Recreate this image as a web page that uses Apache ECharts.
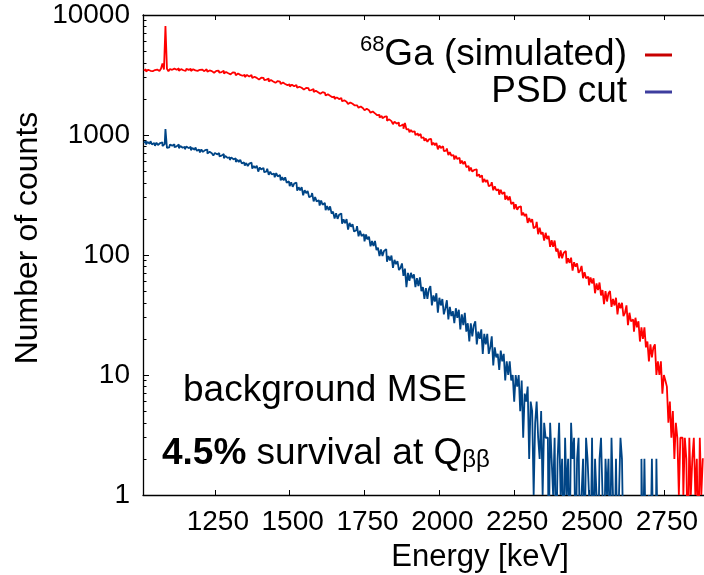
<!DOCTYPE html>
<html>
<head>
<meta charset="utf-8">
<script src="https://cdn.jsdelivr.net/npm/echarts@6/dist/echarts.min.js"></script>
<style>
  html, body { margin: 0; padding: 0; background: #fff; }
  #chart { width: 704px; height: 575px; }
</style>
</head>
<body>
<div id="chart"></div>
<script>
// Energy binning shared by both spectra (keV)
const binStart = 1010;
const binWidth = 5;

// Counts per 5 keV bin, simulated 68Ga spectrum (1010 - 2885 keV)
const gaCounts = [
  3450, 3520, 3380, 3500, 3430, 3550, 3400, 3480, 3370, 3510,
  3420, 3520, 3570, 3950, 3510, 8100, 3560, 3395, 3545, 3495,
  3570, 3445, 3495, 3590, 3420, 3540, 3465, 3515, 3415, 3565,
  3490, 3560, 3410, 3530, 3455, 3570, 3425, 3495, 3370, 3510,
  3405, 3495, 3535, 3360, 3450, 3405, 3480, 3300, 3420, 3380,
  3441, 3311, 3346, 3426, 3251, 3355, 3274, 3307, 3203, 3328,
  3250, 3304, 3153, 3252, 3170, 3267, 3119, 3171, 3046, 3164,
  3066, 3134, 3158, 2989, 3055, 2995, 3060, 2895, 3000, 2940,
  2992, 2870, 2892, 2953, 2794, 2876, 2797, 2818, 2721, 2818,
  2750, 2789, 2657, 2735, 2660, 2736, 2606, 2644, 2535, 2626,
  2544, 2598, 2615, 2474, 2527, 2474, 2525, 2387, 2472, 2420,
  2461, 2357, 2370, 2416, 2281, 2342, 2274, 2286, 2203, 2277,
  2220, 2245, 2132, 2187, 2121, 2173, 2064, 2087, 1994, 2058,
  1992, 2026, 2031, 1912, 1945, 1896, 1927, 1812, 1868, 1820,
  1848, 1764, 1768, 1796, 1690, 1728, 1671, 1674, 1607, 1654,
  1610, 1622, 1535, 1569, 1515, 1546, 1462, 1472, 1401, 1440,
  1382, 1420, 1428, 1314, 1350, 1305, 1339, 1231, 1288, 1245,
  1272, 1193, 1198, 1227, 1127, 1260, 1114, 1118, 1055, 1102,
  1060, 1075, 997, 1032, 986, 1018, 944, 956, 894, 933,
  878, 918, 930, 824, 862, 823, 859, 760, 818, 780,
  805, 733, 741, 771, 680, 719, 673, 679, 625, 669,
  630, 646, 578, 611, 572, 603, 540, 552, 500, 536,
  495, 513, 516, 454, 470, 445, 460, 402, 430, 405,
  422, 374, 383, 405, 346, 374, 346, 352, 318, 350,
  322, 334, 289, 312, 286, 308, 266, 275, 241, 265,
  238, 251, 254, 214, 225, 211, 220, 185, 203, 188,
  199, 167, 173, 189, 149, 169, 149, 155, 132, 153,
  136, 144, 117, 133, 117, 132, 107, 113, 94, 109,
  94, 104, 108, 85, 94, 86, 95, 74, 87, 80,
  85, 71, 74, 81, 64, 72, 64, 66, 56, 65,
  58, 64, 48, 58, 51, 59, 46, 51, 39, 50,
  41, 48, 50, 37, 43, 38, 44, 32, 40, 36,
  40, 31, 33, 38, 26, 33, 28, 29, 23, 30,
  25, 28, 19, 25, 20, 25, 17, 19, 13, 18,
  14, 17, 18, 10, 13, 10, 13, 7, 10, 9,
  8, 4, 6, 3, 5, 2, 4, 3, 1, 3,
  3, 1, 3, 2, 0, 3, 1, 2, 3, 1,
  2, 0, 3, 1, 2
];

// Counts per 5 keV bin remaining after the PSD cut (1010 - 2760 keV)
const psdCounts = [
  862, 886, 832, 873, 845, 887, 834, 857, 813, 862,
  826, 857, 870, 809, 839, 1120, 780, 788, 834, 815,
  836, 792, 805, 833, 774, 810, 783, 795, 760, 803,
  777, 796, 746, 780, 753, 788, 739, 758, 716, 757,
  723, 748, 756, 700, 724, 704, 727, 673, 709, 690,
  706, 665, 673, 694, 641, 669, 644, 650, 619, 651,
  627, 640, 597, 621, 597, 621, 579, 591, 556, 584,
  550, 578, 588, 525, 552, 530, 556, 495, 537, 515,
  532, 489, 498, 523, 465, 496, 469, 478, 444, 481,
  452, 465, 419, 445, 419, 444, 400, 411, 375, 404,
  370, 394, 402, 344, 367, 346, 368, 314, 347, 328,
  341, 303, 310, 328, 280, 304, 280, 286, 258, 284,
  262, 272, 236, 256, 236, 254, 221, 230, 201, 223,
  200, 216, 222, 182, 198, 184, 199, 163, 185, 172,
  181, 157, 161, 174, 143, 159, 144, 149, 130, 148,
  135, 142, 118, 131, 119, 131, 110, 115, 98, 111,
  98, 108, 112, 88, 98, 90, 99, 78, 91, 84,
  89, 75, 78, 85, 67, 77, 54, 71, 61, 71,
  64, 69, 54, 64, 55, 65, 50, 54, 43, 53,
  43, 52, 55, 38, 46, 41, 48, 33, 44, 38,
  43, 32, 36, 42, 29, 37, 31, 34, 27, 36,
  30, 35, 24, 32, 26, 33, 23, 27, 19, 27,
  21, 26, 28, 18, 23, 20, 24, 15, 22, 18,
  22, 15, 17, 21, 12, 17, 14, 15, 11, 16,
  13, 15, 9, 13, 10, 13, 9, 10, 6, 10,
  8, 10, 5, 9, 3, 7, 6, 8, 2, 6,
  5, 1, 4, 6, 3, 2, 5, 1, 4, 3,
  3, 0, 4, 2, 1, 3, 0, 2, 4, 1,
  2, 0, 3, 1, 2, 0, 4, 2, 3, 0,
  2, 3, 0, 1, 2, 0, 3, 2, 1, 0,
  3, 0, 2, 1, 0, 2, 3, 1, 0, 2,
  1, 2, 0, 3, 1, 0, 2, 0, 1, 3,
  2, 0, 0, 0, 0, 0, 0, 0, 0, 0,
  0, 0, 0, 2, 0, 2, 0, 0, 1, 0,
  2, 0, 0, 2, 0, 0, 0, 0, 0, 0
];

// Axis ticks
const energyTicks = [1250, 1500, 1750, 2000, 2250, 2500, 2750];
const countMinorTicks = [
  2, 3, 4, 5, 6, 7, 8, 9,
  20, 30, 40, 50, 60, 70, 80, 90,
  200, 300, 400, 500, 600, 700, 800, 900,
  2000, 3000, 4000, 5000, 6000, 7000, 8000, 9000
];

const seriesNames = ['68Ga (simulated)', 'PSD cut'];
const FONT = '"Liberation Sans", Arial, Helvetica, sans-serif';

// Bin centres paired with counts; empty bins sit below the log floor so the
// step line drops to the bottom of the frame.
function toSteps(counts) {
  return counts.map((c, i) => [binStart + binWidth * (i + 0.5), c > 0 ? c : 0.3]);
}

const frameLine = { color: '#000', width: 1.3 };
const tickLine = { color: '#000', width: 1 };

const chart = echarts.init(document.getElementById('chart'), null, { renderer: 'canvas' });

chart.setOption({
  animation: false,
  backgroundColor: '#fff',
  grid: { left: 143, top: 15, right: 0, bottom: 80, containLabel: false, outerBoundsMode: 'none' },
  xAxis: [
    {
      type: 'value', min: 1010, max: 2884, position: 'bottom',
      axisLine: { show: true, onZero: false, lineStyle: frameLine },
      axisTick: { show: true, inside: true, length: 5, customValues: energyTicks, lineStyle: tickLine },
      axisLabel: {
        show: true, customValues: energyTicks, margin: 13, fontSize: 28, color: '#000',
        fontFamily: FONT, padding: [0, 0, 0, 6], formatter: v => String(v)
      },
      splitLine: { show: false }
    },
    {
      type: 'value', min: 1010, max: 2884, position: 'top',
      axisLine: { show: true, onZero: false, lineStyle: frameLine },
      axisTick: { show: true, inside: true, length: 5, customValues: energyTicks, lineStyle: tickLine },
      axisLabel: { show: false },
      splitLine: { show: false }
    }
  ],
  yAxis: [
    {
      type: 'log', logBase: 10, min: 1, max: 10000, position: 'left',
      axisLine: { show: true, lineStyle: frameLine },
      axisTick: { show: true, inside: true, length: 6, lineStyle: tickLine },
      axisLabel: {
        show: true, margin: 13, fontSize: 28, color: '#000', fontFamily: FONT, padding: [13, 0, 0, 0],
        formatter: v => String(Math.round(v))
      },
      splitLine: { show: false }
    },
    {
      // tick-only axis in decade units carrying the 2..9 minor marks
      type: 'value', min: 0, max: 4, position: 'left',
      axisLine: { show: false },
      axisTick: { show: true, inside: true, length: 3.5, customValues: countMinorTicks.map(v => Math.log10(v)), lineStyle: tickLine },
      axisLabel: { show: false },
      splitLine: { show: false }
    }
  ],
  legend: {
    orient: 'vertical', right: 27, top: 29, align: 'right', itemGap: 0,
    icon: 'rect', itemWidth: 27, itemHeight: 3, selectedMode: false,
    data: [
      { name: seriesNames[0], itemStyle: { color: '#c80000' } },
      { name: seriesNames[1], itemStyle: { color: '#3d3d9e' } }
    ],
    formatter: name => name === seriesNames[0] ? '{sup|68}{txt|Ga (simulated)}' : '{txt|PSD cut}',
    textStyle: {
      color: '#000', fontFamily: FONT, padding: [0, 13, 0, 0],
      rich: {
        txt: { fontSize: 37, lineHeight: 42, fontFamily: FONT, color: '#000' },
        sup: { fontSize: 22, lineHeight: 22, verticalAlign: 'top', fontFamily: FONT, color: '#000' }
      }
    }
  },
  series: [
    {
      name: seriesNames[0], type: 'line', step: 'middle', xAxisIndex: 0, yAxisIndex: 0,
      data: toSteps(gaCounts), showSymbol: false, symbol: 'none', clip: true, silent: true,
      lineStyle: { color: '#ff0000', width: 1.8 }, itemStyle: { color: '#ff0000' }, z: 2
    },
    {
      name: seriesNames[1], type: 'line', step: 'middle', xAxisIndex: 0, yAxisIndex: 0,
      data: toSteps(psdCounts), showSymbol: false, symbol: 'none', clip: true, silent: true,
      lineStyle: { color: '#004586', width: 1.8 }, itemStyle: { color: '#004586' }, z: 3
    }
  ],
  graphic: [
    {
      type: 'text', x: 28, y: 238, rotation: Math.PI / 2, silent: true,
      style: { text: 'Number of counts', fontSize: 32, fontFamily: FONT, fill: '#000', align: 'center', verticalAlign: 'middle' }
    },
    {
      type: 'text', x: 480, y: 557, silent: true,
      style: { text: 'Energy [keV]', fontSize: 31, fontFamily: FONT, fill: '#000', align: 'center', verticalAlign: 'middle' }
    },
    {
      type: 'text', x: 183, y: 391, silent: true,
      style: { text: 'background MSE', fontSize: 37, fontFamily: FONT, fill: '#000', align: 'left', verticalAlign: 'middle' }
    },
    {
      type: 'text', x: 162, y: 454, silent: true,
      style: {
        text: '{b|4.5%}{n| survival at Q}{s|ββ}',
        align: 'left', verticalAlign: 'middle', fill: '#000',
        rich: {
          b: { fontSize: 37, lineHeight: 37, fontWeight: 'bold', fontFamily: FONT, fill: '#000' },
          n: { fontSize: 37, lineHeight: 37, fontFamily: FONT, fill: '#000' },
          s: { fontSize: 24, lineHeight: 24, padding: [26, 0, 0, 0], verticalAlign: 'bottom', fontFamily: FONT, fill: '#000' }
        }
      }
    }
  ]
});
</script>
</body>
</html>
